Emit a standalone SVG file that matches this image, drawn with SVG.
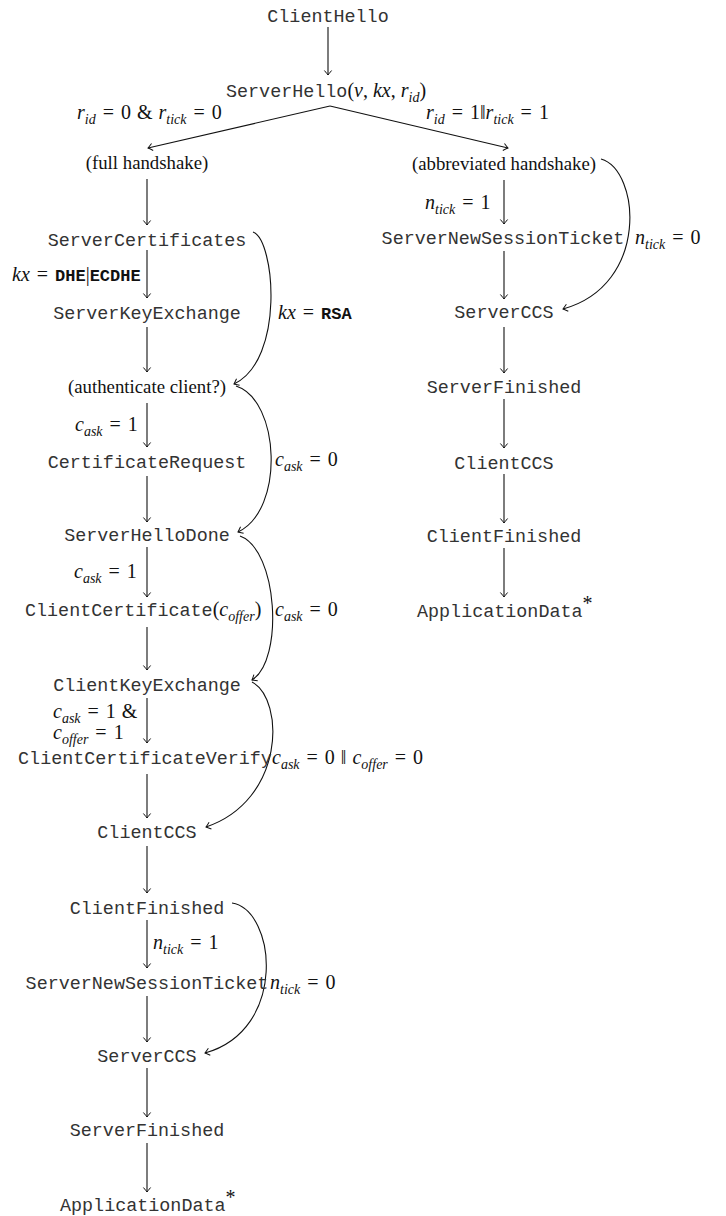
<svg xmlns="http://www.w3.org/2000/svg" width="726" height="1216" viewBox="0 0 726 1216">
<style>
.mono{font-family:"Liberation Mono",monospace;font-size:18.4px;fill:#333}
.rm{font-family:"Liberation Serif",serif;font-size:18.8px;fill:#111}
.m{font-family:"Liberation Serif",serif;font-size:20px;fill:#111}
.it{font-style:italic}
.sub{font-size:14px;font-style:italic}
.bf{font-family:"Liberation Mono",monospace;font-weight:bold;font-size:17px}
.c{text-anchor:middle}
.edge{fill:none;stroke:#111;stroke-width:1.1;marker-end:url(#ah)}
</style>
<defs>
<marker id="ah" viewBox="-6 -5 8 10" markerWidth="8" markerHeight="10" refX="0" refY="0" orient="auto" markerUnits="userSpaceOnUse">
<path d="M-4.5,-3.6 Q-1,-0.7 0,0 Q-1,0.7 -4.5,3.6" fill="none" stroke="#111" stroke-width="1"/>
</marker>
</defs>
<rect width="726" height="1216" fill="#fff"/>

<g id="connectors">
<line class="edge" x1="328" y1="27" x2="328" y2="75"/>
<line class="edge" x1="330" y1="106" x2="148" y2="148"/>
<line class="edge" x1="330" y1="106" x2="508" y2="148"/>
<line class="edge" x1="147" y1="179" x2="147" y2="225"/>
<line class="edge" x1="147" y1="250" x2="147" y2="298"/>
<line class="edge" x1="147" y1="327" x2="147" y2="372"/>
<line class="edge" x1="147" y1="403" x2="147" y2="447"/>
<line class="edge" x1="147" y1="476" x2="147" y2="522"/>
<line class="edge" x1="147" y1="547" x2="147" y2="597"/>
<line class="edge" x1="147" y1="627" x2="147" y2="670"/>
<line class="edge" x1="147" y1="698" x2="147" y2="743"/>
<line class="edge" x1="147" y1="774" x2="147" y2="818"/>
<line class="edge" x1="147" y1="846" x2="147" y2="893"/>
<line class="edge" x1="147" y1="920" x2="147" y2="968"/>
<line class="edge" x1="147" y1="996" x2="147" y2="1042"/>
<line class="edge" x1="147" y1="1068" x2="147" y2="1117"/>
<line class="edge" x1="147" y1="1143" x2="147" y2="1192"/>
<line class="edge" x1="504" y1="180" x2="504" y2="224"/>
<line class="edge" x1="504" y1="251" x2="504" y2="299"/>
<line class="edge" x1="504" y1="327" x2="504" y2="373"/>
<line class="edge" x1="504" y1="399" x2="504" y2="448"/>
<line class="edge" x1="504" y1="474" x2="504" y2="523"/>
<line class="edge" x1="504" y1="548" x2="504" y2="597"/>
<path class="edge" d="M601,159 C640,170 650,285 563,309"/>
<path class="edge" d="M253,232 C275,240 285,360 234,384"/>
<path class="edge" d="M236,386 C280,400 285,510 238,532"/>
<path class="edge" d="M240,536 C278,550 284,660 252,680"/>
<path class="edge" d="M252,682 C285,700 285,800 206,827"/>
<path class="edge" d="M232,903 C276,910 288,1030 205,1053"/>
</g>

<g id="labels">
<text class="m" x="77" y="119"><tspan class="it">r</tspan><tspan class="sub" dy="5">id</tspan><tspan dy="-5" dx="7">=</tspan><tspan dx="7">0</tspan><tspan dx="6">&amp;</tspan><tspan class="it" dx="6">r</tspan><tspan class="sub" dy="5">tick</tspan><tspan dy="-5" dx="7">=</tspan><tspan dx="7">0</tspan></text>
<text class="m" x="426" y="119"><tspan class="it">r</tspan><tspan class="sub" dy="5">id</tspan><tspan dy="-5" dx="7">=</tspan><tspan dx="7">1‖</tspan><tspan class="it">r</tspan><tspan class="sub" dy="5">tick</tspan><tspan dy="-5" dx="7">=</tspan><tspan dx="7">1</tspan></text>
<text class="m" x="12" y="281"><tspan class="it">kx</tspan><tspan dx="7">=</tspan><tspan class="bf" dx="7">DHE</tspan><tspan>|</tspan><tspan class="bf">ECDHE</tspan></text>
<text class="m" x="278" y="319"><tspan class="it">kx</tspan><tspan dx="7">=</tspan><tspan class="bf" dx="7">RSA</tspan></text>
<text class="m" x="75" y="431"><tspan class="it">c</tspan><tspan class="sub" dy="5">ask</tspan><tspan dy="-5" dx="7">=</tspan><tspan dx="7">1</tspan></text>
<text class="m" x="275" y="466"><tspan class="it">c</tspan><tspan class="sub" dy="5">ask</tspan><tspan dy="-5" dx="7">=</tspan><tspan dx="7">0</tspan></text>
<text class="m" x="74" y="578"><tspan class="it">c</tspan><tspan class="sub" dy="5">ask</tspan><tspan dy="-5" dx="7">=</tspan><tspan dx="7">1</tspan></text>
<text class="m" x="275" y="616"><tspan class="it">c</tspan><tspan class="sub" dy="5">ask</tspan><tspan dy="-5" dx="7">=</tspan><tspan dx="7">0</tspan></text>
<text class="m" x="53" y="718"><tspan class="it">c</tspan><tspan class="sub" dy="5">ask</tspan><tspan dy="-5" dx="7">=</tspan><tspan dx="7">1</tspan><tspan dx="6">&amp;</tspan></text>
<text class="m" x="53" y="739"><tspan class="it">c</tspan><tspan class="sub" dy="5">offer</tspan><tspan dy="-5" dx="7">=</tspan><tspan dx="7">1</tspan></text>
<text class="m" x="272" y="764"><tspan class="it">c</tspan><tspan class="sub" dy="5">ask</tspan><tspan dy="-5" dx="7">=</tspan><tspan dx="7">0</tspan><tspan dx="6">‖</tspan><tspan class="it" dx="6">c</tspan><tspan class="sub" dy="5">offer</tspan><tspan dy="-5" dx="7">=</tspan><tspan dx="7">0</tspan></text>
<text class="m" x="153" y="949"><tspan class="it">n</tspan><tspan class="sub" dy="5">tick</tspan><tspan dy="-5" dx="7">=</tspan><tspan dx="7">1</tspan></text>
<text class="m" x="270" y="989"><tspan class="it">n</tspan><tspan class="sub" dy="5">tick</tspan><tspan dy="-5" dx="7">=</tspan><tspan dx="7">0</tspan></text>
<text class="m" x="425" y="209"><tspan class="it">n</tspan><tspan class="sub" dy="5">tick</tspan><tspan dy="-5" dx="7">=</tspan><tspan dx="7">1</tspan></text>
<text class="m" x="635" y="244"><tspan class="it">n</tspan><tspan class="sub" dy="5">tick</tspan><tspan dy="-5" dx="7">=</tspan><tspan dx="7">0</tspan></text>
</g>

<g id="n-clienthello"><text class="mono c" x="328" y="22">ClientHello</text></g>
<g id="n-serverhello"><text class="mono" x="226" y="97">ServerHello<tspan class="m">(<tspan class="it">v</tspan>, <tspan class="it">kx</tspan>, <tspan class="it">r</tspan><tspan class="sub" dy="5">id</tspan><tspan dy="-5">)</tspan></tspan></text></g>
<g id="n-full"><text class="rm c" x="147" y="169">(full handshake)</text></g>
<g id="n-abbr"><text class="rm c" x="504" y="170">(abbreviated handshake)</text></g>

<g id="n-servercertificates"><text class="mono c" x="147" y="246">ServerCertificates</text></g>
<g id="n-serverkeyexchange"><text class="mono c" x="147" y="319">ServerKeyExchange</text></g>
<g id="n-authclient"><text class="rm c" x="147" y="393">(authenticate client?)</text></g>
<g id="n-certificaterequest"><text class="mono c" x="147" y="468">CertificateRequest</text></g>
<g id="n-serverhellodone"><text class="mono c" x="147" y="541">ServerHelloDone</text></g>
<g id="n-clientcertificate"><text class="mono" x="25" y="616">ClientCertificate<tspan class="m">(<tspan class="it">c</tspan><tspan class="sub" dy="5">offer</tspan><tspan dy="-5">)</tspan></tspan></text></g>
<g id="n-clientkeyexchange"><text class="mono c" x="147" y="691">ClientKeyExchange</text></g>
<g id="n-clientcertificateverify"><text class="mono c" x="145" y="764">ClientCertificateVerify</text></g>
<g id="n-clientccs-l"><text class="mono c" x="147" y="838">ClientCCS</text></g>
<g id="n-clientfinished-l"><text class="mono c" x="147" y="914">ClientFinished</text></g>
<g id="n-newsessionticket-l"><text class="mono c" x="147" y="989">ServerNewSessionTicket</text></g>
<g id="n-serverccs-l"><text class="mono c" x="147" y="1062">ServerCCS</text></g>
<g id="n-serverfinished-l"><text class="mono c" x="147" y="1136">ServerFinished</text></g>
<g id="n-appdata-l"><text class="mono" x="60" y="1211">ApplicationData<tspan class="m" font-size="13" dy="-7">*</tspan></text></g>

<g id="n-newsessionticket-r"><text class="mono c" x="503" y="244">ServerNewSessionTicket</text></g>
<g id="n-serverccs-r"><text class="mono c" x="504" y="318">ServerCCS</text></g>
<g id="n-serverfinished-r"><text class="mono c" x="504" y="393">ServerFinished</text></g>
<g id="n-clientccs-r"><text class="mono c" x="504" y="469">ClientCCS</text></g>
<g id="n-clientfinished-r"><text class="mono c" x="504" y="542">ClientFinished</text></g>
<g id="n-appdata-r"><text class="mono" x="417" y="617">ApplicationData<tspan class="m" font-size="13" dy="-7">*</tspan></text></g>
</svg>
